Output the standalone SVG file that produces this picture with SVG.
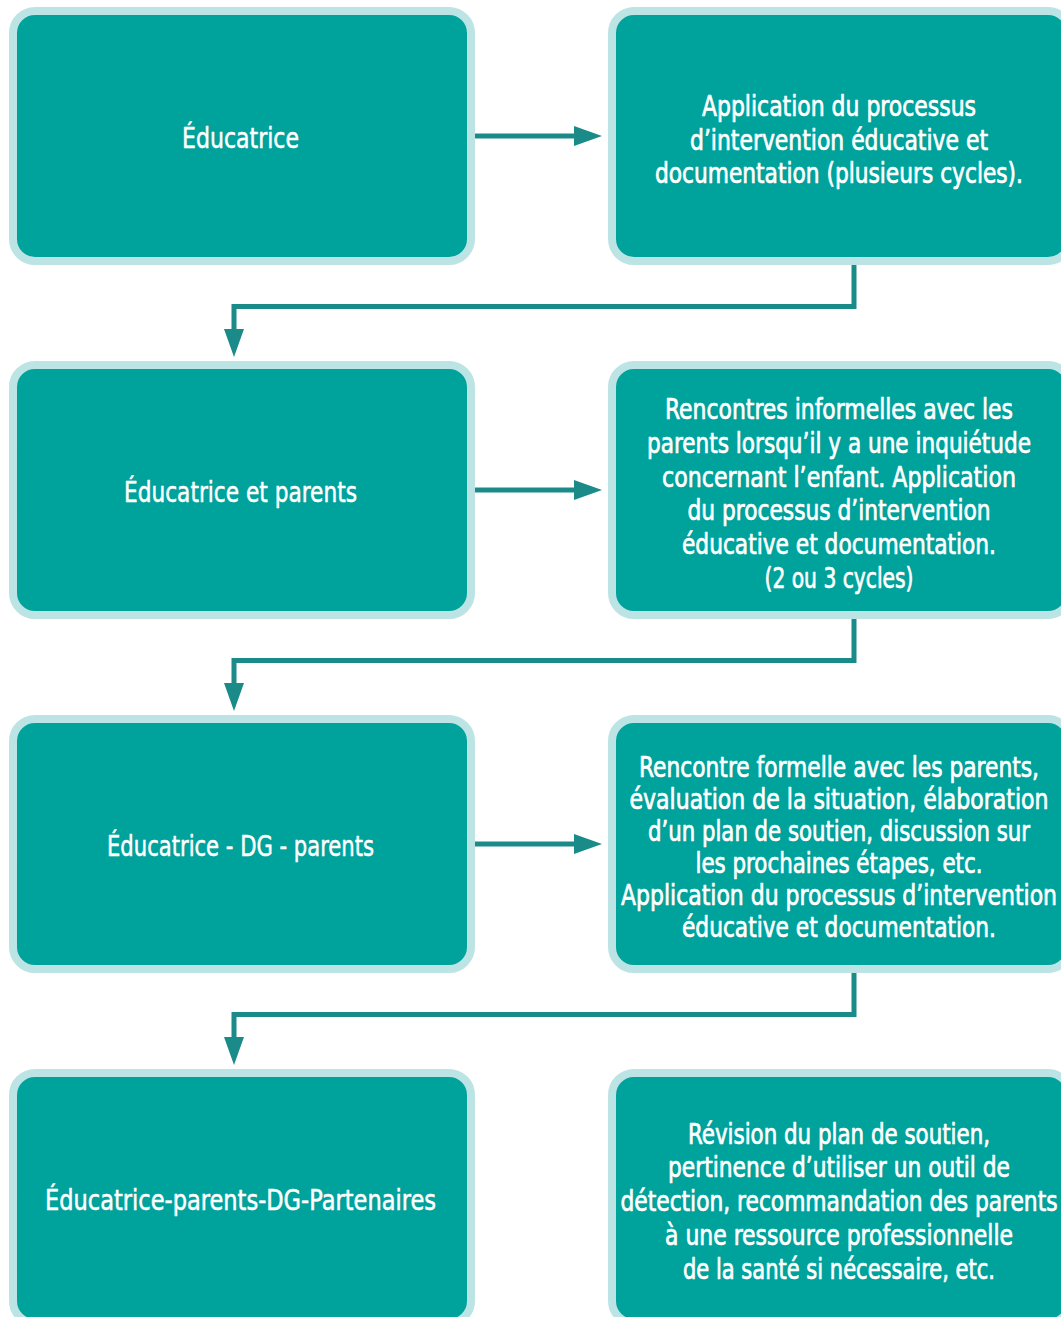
<svg xmlns="http://www.w3.org/2000/svg" width="1061" height="1317" viewBox="0 0 1061 1317">
<style>
.box{fill:#00a29c;stroke:#bde4e4;stroke-width:8}
.lbl{font-family:"Liberation Sans Narrow","DejaVu Sans Condensed","Liberation Sans",sans-serif;font-size:28px;fill:#ffffff;text-anchor:middle;stroke:#ffffff;stroke-linejoin:round}
.lt{font-weight:normal;stroke-width:0.5}
.rt{font-weight:normal;stroke-width:0.7}
.con{fill:none;stroke:#1b8b8a;stroke-width:5}
</style>
<defs>
<marker id="ah" markerUnits="userSpaceOnUse" markerWidth="28" markerHeight="20" refX="6" refY="10" orient="auto">
<path d="M0,0 L28,10 L0,20 Z" fill="#1b8b8a"/>
</marker>
</defs>
<rect width="1061" height="1317" fill="#ffffff"/>
<g id="n1">
<rect class="box" x="13" y="11" width="458" height="250" rx="22"/>
<text class="lbl lt" x="240.5" y="148" textLength="117" lengthAdjust="spacingAndGlyphs">Éducatrice</text>
</g>
<g id="n2">
<rect class="box" x="612" y="11" width="458" height="250" rx="22"/>
<text class="lbl rt" x="839" y="116" textLength="274" lengthAdjust="spacingAndGlyphs">Application du processus</text>
<text class="lbl rt" x="839" y="150" textLength="298" lengthAdjust="spacingAndGlyphs">d’intervention éducative et</text>
<text class="lbl rt" x="839" y="183" textLength="368" lengthAdjust="spacingAndGlyphs">documentation (plusieurs cycles).</text>
</g>
<g id="n3">
<rect class="box" x="13" y="365" width="458" height="250" rx="22"/>
<text class="lbl lt" x="240.5" y="502" textLength="233" lengthAdjust="spacingAndGlyphs">Éducatrice et parents</text>
</g>
<g id="n4">
<rect class="box" x="612" y="365" width="458" height="250" rx="22"/>
<text class="lbl rt" x="839" y="419" textLength="348" lengthAdjust="spacingAndGlyphs">Rencontres informelles avec les</text>
<text class="lbl rt" x="839" y="453" textLength="384" lengthAdjust="spacingAndGlyphs">parents lorsqu’il y a une inquiétude</text>
<text class="lbl rt" x="839" y="487" textLength="354" lengthAdjust="spacingAndGlyphs">concernant l’enfant. Application</text>
<text class="lbl rt" x="839" y="520" textLength="303" lengthAdjust="spacingAndGlyphs">du processus d’intervention</text>
<text class="lbl rt" x="839" y="554" textLength="314" lengthAdjust="spacingAndGlyphs">éducative et documentation.</text>
<text class="lbl rt" x="839" y="588" textLength="149" lengthAdjust="spacingAndGlyphs">(2 ou 3 cycles)</text>
</g>
<g id="n5">
<rect class="box" x="13" y="719" width="458" height="250" rx="22"/>
<text class="lbl lt" x="240.5" y="856" textLength="267" lengthAdjust="spacingAndGlyphs">Éducatrice - DG - parents</text>
</g>
<g id="n6">
<rect class="box" x="612" y="719" width="458" height="250" rx="22"/>
<text class="lbl rt" x="839" y="777" textLength="400" lengthAdjust="spacingAndGlyphs">Rencontre formelle avec les parents,</text>
<text class="lbl rt" x="839" y="809" textLength="419" lengthAdjust="spacingAndGlyphs">évaluation de la situation, élaboration</text>
<text class="lbl rt" x="839" y="841" textLength="382" lengthAdjust="spacingAndGlyphs">d’un plan de soutien, discussion sur</text>
<text class="lbl rt" x="839" y="873" textLength="287" lengthAdjust="spacingAndGlyphs">les prochaines étapes, etc.</text>
<text class="lbl rt" x="839" y="905" textLength="436" lengthAdjust="spacingAndGlyphs">Application du processus d’intervention</text>
<text class="lbl rt" x="839" y="937" textLength="314" lengthAdjust="spacingAndGlyphs">éducative et documentation.</text>
</g>
<g id="n7">
<rect class="box" x="13" y="1073" width="458" height="250" rx="22"/>
<text class="lbl lt" x="240.5" y="1210" textLength="391" lengthAdjust="spacingAndGlyphs">Éducatrice-parents-DG-Partenaires</text>
</g>
<g id="n8">
<rect class="box" x="612" y="1073" width="458" height="250" rx="22"/>
<text class="lbl rt" x="839" y="1144" textLength="302" lengthAdjust="spacingAndGlyphs">Révision du plan de soutien,</text>
<text class="lbl rt" x="839" y="1177" textLength="342" lengthAdjust="spacingAndGlyphs">pertinence d’utiliser un outil de</text>
<text class="lbl rt" x="839" y="1211" textLength="437" lengthAdjust="spacingAndGlyphs">détection, recommandation des parents</text>
<text class="lbl rt" x="839" y="1245" textLength="348" lengthAdjust="spacingAndGlyphs">à une ressource professionnelle</text>
<text class="lbl rt" x="839" y="1279" textLength="312" lengthAdjust="spacingAndGlyphs">de la santé si nécessaire, etc.</text>
</g>
<g id="connectors">
<path class="con" d="M475,136 H580" marker-end="url(#ah)"/>
<path class="con" d="M475,490 H580" marker-end="url(#ah)"/>
<path class="con" d="M475,844 H580" marker-end="url(#ah)"/>
<path class="con" d="M854,265 V306.5 H234 V335" marker-end="url(#ah)"/>
<path class="con" d="M854,619 V660.5 H234 V689" marker-end="url(#ah)"/>
<path class="con" d="M854,973 V1014.5 H234 V1043" marker-end="url(#ah)"/>
</g>
</svg>
